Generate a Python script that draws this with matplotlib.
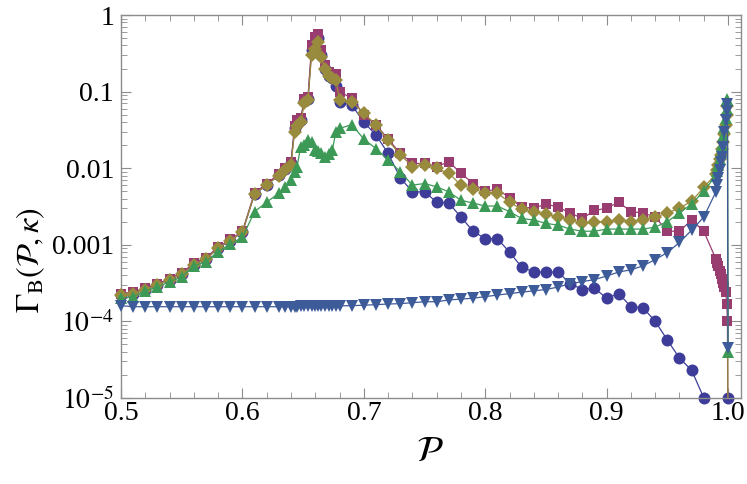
import numpy as np
import matplotlib

matplotlib.use("Agg")
import matplotlib.pyplot as plt
from matplotlib.ticker import FixedLocator, LogLocator, MultipleLocator, NullFormatter

# polarisation grid (shared by every series)
P = [
    0.50, 0.51, 0.52, 0.53, 0.54, 0.55, 0.56, 0.57, 0.58, 0.59, 0.60, 0.61, 0.62,
    0.63, 0.635, 0.64, 0.643, 0.645, 0.648, 0.651, 0.654, 0.657, 0.66, 0.662, 0.665,
    0.668, 0.671, 0.674, 0.677, 0.68,
    0.69, 0.70, 0.71, 0.72, 0.73, 0.74, 0.75, 0.76, 0.77, 0.78, 0.79, 0.80, 0.81,
    0.82, 0.83, 0.84, 0.85, 0.86, 0.87, 0.88, 0.89, 0.90, 0.91, 0.92, 0.93, 0.94,
    0.95, 0.96, 0.97, 0.98,
    0.99, 0.991, 0.992, 0.993, 0.994, 0.995, 0.996, 0.997, 0.998, 0.999, 0.9995, 1.0,
]

nan = float("nan")

gamma_circles = [
    2.2e-4, 2.3e-4, 2.6e-4, 3.0e-4, 3.5e-4, 4.1e-4, 5.5e-4, 6.5e-4, 9.0e-4, 1.13e-3, 1.46e-3, 4.6e-3, 6.0e-3,
    8.2e-3, 9.7e-3, 0.0115, 0.033, 0.038, 0.042, 0.075, 0.080, 0.35, 0.45, 0.50, 0.30,
    0.20, 0.16, 0.15, 0.12, 0.072,
    0.067, 0.040, 0.027, 0.0156, 0.0075, 0.0049, 0.0049, 0.0036, 0.0035, 0.0023, 0.0015, 0.0012, 0.0012,
    8.0e-4, 5.1e-4, 4.4e-4, 4.4e-4, 4.4e-4, 3.1e-4, 2.6e-4, 2.7e-4, 2.0e-4, 2.3e-4, 1.55e-4, 1.5e-4, 1.0e-4,
    5.7e-5, 3.3e-5, 2.3e-5, 1.0e-5,
    nan, nan, nan, nan, nan, nan, nan, nan, nan, nan, nan, 1.0e-5,
]

gamma_squares = [
    2.3e-4, 2.4e-4, 2.7e-4, 3.1e-4, 3.6e-4, 4.3e-4, 5.7e-4, 6.8e-4, 9.3e-4, 1.17e-3, 1.5e-3, 4.8e-3, 6.2e-3,
    8.5e-3, 0.010, 0.012, 0.036, 0.042, 0.045, 0.080, 0.085, 0.40, 0.52, 0.57, 0.35,
    0.22, 0.18, 0.17, 0.17, 0.10,
    0.082, 0.050, 0.037, 0.024, 0.0156, 0.0115, 0.0115, 0.0105, 0.0121, 0.0086, 0.0063, 0.0050, 0.0053,
    0.0041, 0.0031, 0.0030, 0.0034, 0.0031, 0.0026, 0.0022, 0.0028, 0.0030, 0.0036, 0.0027, 0.0026, 0.0023,
    0.0015, 0.0015, 0.0021, 0.0015,
    6.5e-4, 5.8e-4, 5.2e-4, 4.6e-4, 4.1e-4, 3.6e-4, 3.2e-4, 2.8e-4, 2.4e-4, 1.7e-4, 1.0e-4, 1e-6,
]

gamma_diamonds = [
    2.2e-4, 2.3e-4, 2.6e-4, 3.0e-4, 3.5e-4, 4.1e-4, 5.5e-4, 6.5e-4, 9.0e-4, 1.13e-3, 1.46e-3, 4.6e-3, 6.0e-3,
    8.0e-3, 9.5e-3, 0.011, 0.030, 0.035, 0.040, 0.070, 0.078, 0.30, 0.36, 0.45, 0.28,
    0.20, 0.16, 0.15, 0.14, 0.078,
    0.074, 0.052, 0.037, 0.023, 0.015, 0.0105, 0.011, 0.0099, 0.0086, 0.0060, 0.0054, 0.0047, 0.0047,
    0.0036, 0.0029, 0.0027, 0.0025, 0.0023, 0.0021, 0.0019, 0.0020, 0.0020, 0.0021, 0.0020, 0.0021, 0.0023,
    0.0026, 0.0030, 0.0037, 0.0056,
    0.0084, 0.0095, 0.011, 0.013, 0.015, 0.018, 0.022, 0.028, 0.037, 0.050, 0.065, 1e-6,
]

gamma_up = [
    2.0e-4, 2.1e-4, 2.5e-4, 2.8e-4, 3.3e-4, 3.8e-4, 5.3e-4, 6.0e-4, 8.1e-4, 1.02e-3, 1.25e-3, 2.7e-3, 3.6e-3,
    4.7e-3, 5.7e-3, 7.0e-3, 9.0e-3, 0.0105, 0.019, 0.020, 0.023, 0.022, 0.017, 0.0165, 0.016,
    0.014, 0.0155, 0.017, 0.030, 0.033,
    0.037, 0.024, 0.018, 0.0128, 0.0090, 0.0060, 0.0063, 0.0057, 0.0049, 0.0038, 0.0035, 0.0032, 0.0032,
    0.0027, 0.0022, 0.0021, 0.0019, 0.0018, 0.0016, 0.0015, 0.0015, 0.0016, 0.0016, 0.0016, 0.0016, 0.0017,
    0.0020, 0.0026, 0.0034, 0.0050,
    0.0080, 0.0092, 0.011, 0.013, 0.016, 0.020, 0.026, 0.034, 0.045, 0.060, 0.080, 4.0e-5,
]

gamma_down = [
    1.6e-4, 1.55e-4, 1.55e-4, 1.55e-4, 1.55e-4, 1.55e-4, 1.55e-4, 1.55e-4, 1.55e-4, 1.55e-4, 1.55e-4, 1.55e-4, 1.55e-4,
    1.55e-4, 1.55e-4, 1.55e-4, 1.55e-4, 1.55e-4, 1.56e-4, 1.56e-4, 1.56e-4, 1.57e-4, 1.57e-4, 1.57e-4, 1.57e-4,
    1.58e-4, 1.58e-4, 1.58e-4, 1.59e-4, 1.59e-4,
    1.6e-4, 1.62e-4, 1.65e-4, 1.68e-4, 1.7e-4, 1.75e-4, 1.8e-4, 1.8e-4, 1.9e-4, 1.95e-4, 2.0e-4, 2.1e-4, 2.2e-4,
    2.3e-4, 2.4e-4, 2.5e-4, 2.6e-4, 2.8e-4, 3.1e-4, 3.3e-4, 3.5e-4, 3.9e-4, 4.4e-4, 4.7e-4, 5.3e-4, 6.4e-4,
    7.9e-4, 1.07e-3, 1.55e-3, 2.3e-3,
    0.0049, 0.0060, 0.0075, 0.0094, 0.012, 0.014, 0.019, 0.030, 0.042, 0.055, 0.068, 4.5e-5,
]

Y_MIN, Y_MAX = 1e-5, 1.0
GRAY = "#8c8c8c"

SERIES = [
    (gamma_circles, "o", 8.6, "#3d3d99"),
    (gamma_squares, "s", 7.6, "#993d71"),
    (gamma_diamonds, "D", 7.6, "#998b3d"),
    (gamma_up, "^", 9.2, "#3d9956"),
    (gamma_down, "v", 9.2, "#3d5a99"),
]


def main() -> None:
    plt.rcParams["font.family"] = "serif"
    plt.rcParams["font.serif"] = ["Liberation Serif", "DejaVu Serif"]
    plt.rcParams["mathtext.fontset"] = "stix"

    fig = plt.figure(figsize=(7.47, 4.84), dpi=100)
    ax = fig.add_axes([0.162, 0.178, 0.830, 0.791])

    x = np.array(P)
    for i, (values, marker, size, color) in enumerate(SERIES):
        y = np.array(values)
        ax.plot(x, y, color=color, lw=0.9, zorder=2 + i)
        shown = np.where(y >= Y_MIN * 0.999, y, np.nan)
        ax.plot(x, shown, ls="none", marker=marker, ms=size, color=color,
                mew=0, clip_on=False, zorder=2 + i)

    ax.set_yscale("log")
    ax.set_xlim(0.5, 1.0107)
    ax.set_ylim(Y_MIN, Y_MAX)

    ax.xaxis.set_major_locator(FixedLocator([0.5, 0.6, 0.7, 0.8, 0.9, 1.0]))
    ax.set_xticklabels(["0.5", "0.6", "0.7", "0.8", "0.9", "1.0"])
    ax.xaxis.set_minor_locator(MultipleLocator(0.02))

    ax.yaxis.set_major_locator(FixedLocator([1e-5, 1e-4, 1e-3, 1e-2, 1e-1, 1.0]))
    ax.set_yticklabels([r"$10^{-5}$", r"$10^{-4}$", "0.001", "0.01", "0.1", "1"])
    ax.yaxis.set_minor_locator(LogLocator(base=10, subs=np.arange(2, 10), numticks=20))
    ax.yaxis.set_minor_formatter(NullFormatter())

    for spine in ax.spines.values():
        spine.set_color(GRAY)
        spine.set_linewidth(1.0)
    ax.tick_params(which="both", direction="in", top=True, right=True, color=GRAY,
                   labelsize=20, labelcolor="black")
    ax.tick_params(which="major", length=7, width=0.8)
    ax.tick_params(which="minor", length=4, width=0.6)
    ax.tick_params(axis="x", which="major", pad=2)
    ax.tick_params(axis="y", which="major", pad=5)

    ax.set_xlabel(r"$\mathcal{P}$", fontsize=26)
    ax.xaxis.set_label_coords(0.498, -0.100)
    ax.set_ylabel(r"$\Gamma_{\mathrm{B}}(\mathcal{P},\kappa)$", fontsize=23)
    ax.yaxis.set_label_coords(-0.120, 0.36)

    fig.savefig("out.png", dpi=100)
    plt.close(fig)


if __name__ == "__main__":
    main()
